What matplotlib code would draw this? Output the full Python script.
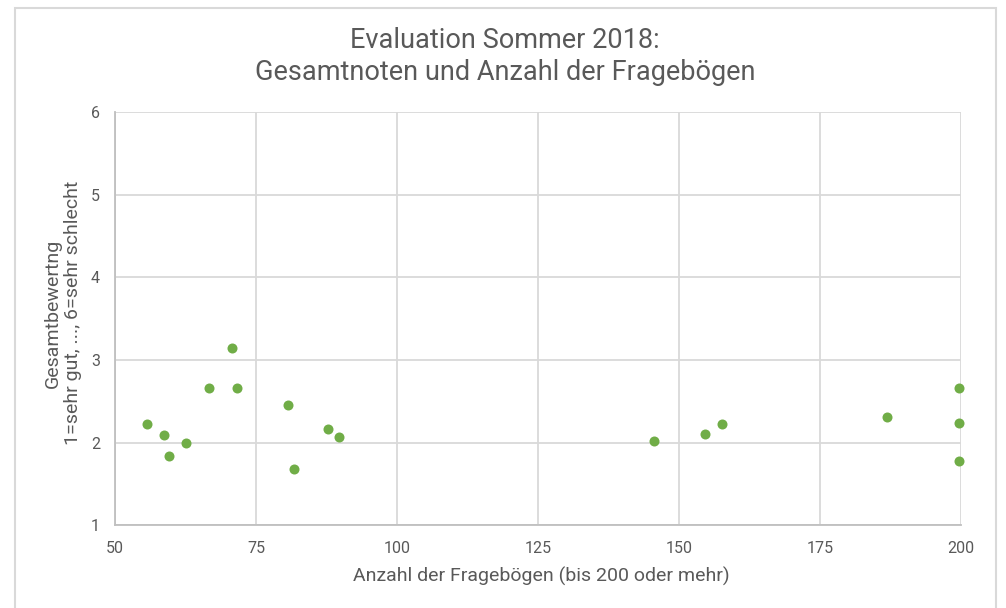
import matplotlib
matplotlib.use("Agg")
import matplotlib.pyplot as plt
from matplotlib.patches import Rectangle

plt.rcParams['font.family'] = ['Roboto', 'DejaVu Sans']

# Data
anzahl = [55.6, 58.6, 59.5, 62.6, 66.6, 70.7, 71.6, 80.7, 81.7, 87.7, 89.7,
          145.6, 154.7, 157.7, 186.9, 199.7, 199.7, 199.7]
note = [2.23, 2.09, 1.84, 2.00, 2.66, 3.14, 2.66, 2.45, 1.68, 2.16, 2.07,
        2.02, 2.11, 2.22, 2.31, 2.66, 2.24, 1.78]
x_ticks = [50, 75, 100, 125, 150, 175, 200]
y_ticks = [1, 2, 3, 4, 5, 6]

title = "Evaluation Sommer 2018:\nGesamtnoten und Anzahl der Fragebögen"
xlabel = "Anzahl der Fragebögen (bis 200 oder mehr)"
ylabel = "Gesamtbewertng\n1=sehr gut, ..., 6=sehr schlecht"

W, H = 1006, 608
fig = plt.figure(figsize=(W / 100, H / 100), dpi=100)
fig.patch.set_facecolor('white')

# outer chart frame
fig.add_artist(Rectangle((15 / W, -0.01), (996 - 15) / W, (H - 8) / H + 0.01,
                         transform=fig.transFigure, fill=False,
                         edgecolor='#d9d9d9', linewidth=1.5))

ax = fig.add_axes([115.3 / W, 1 - 525.3 / H, (960.7 - 115.3) / W, (525.3 - 112) / H])
ax.scatter(anzahl, note, s=52, color='#70ad47', zorder=3, clip_on=False, linewidths=0)

ax.set_xlim(50, 200)
ax.set_ylim(1, 6)
ax.set_xticks(x_ticks)
ax.set_yticks(y_ticks)
ax.grid(True, color='#d9d9d9', linewidth=1.3)
ax.set_axisbelow(True)
ax.spines['top'].set_visible(False)
ax.spines['right'].set_visible(False)
ax.spines['left'].set_color('#bfbfbf')
ax.spines['left'].set_linewidth(1.3)
ax.spines['bottom'].set_color('#bfbfbf')
ax.spines['bottom'].set_linewidth(1.3)
ax.tick_params(length=0, labelsize=11.5, labelcolor='#595959', pad=11)

fig.text(505 / W, 1 - 56.5 / H, title, ha='center', va='center', fontsize=19.5,
         color='#595959', linespacing=1.2)
fig.text(541 / W, 1 - 576 / H, xlabel, ha='center', va='center', fontsize=14,
         color='#595959')
fig.text(63 / W, 1 - 313 / H, ylabel, ha='center', va='center', fontsize=14,
         color='#595959', rotation=90, linespacing=1.15)

fig.savefig('out.png', dpi=100)
